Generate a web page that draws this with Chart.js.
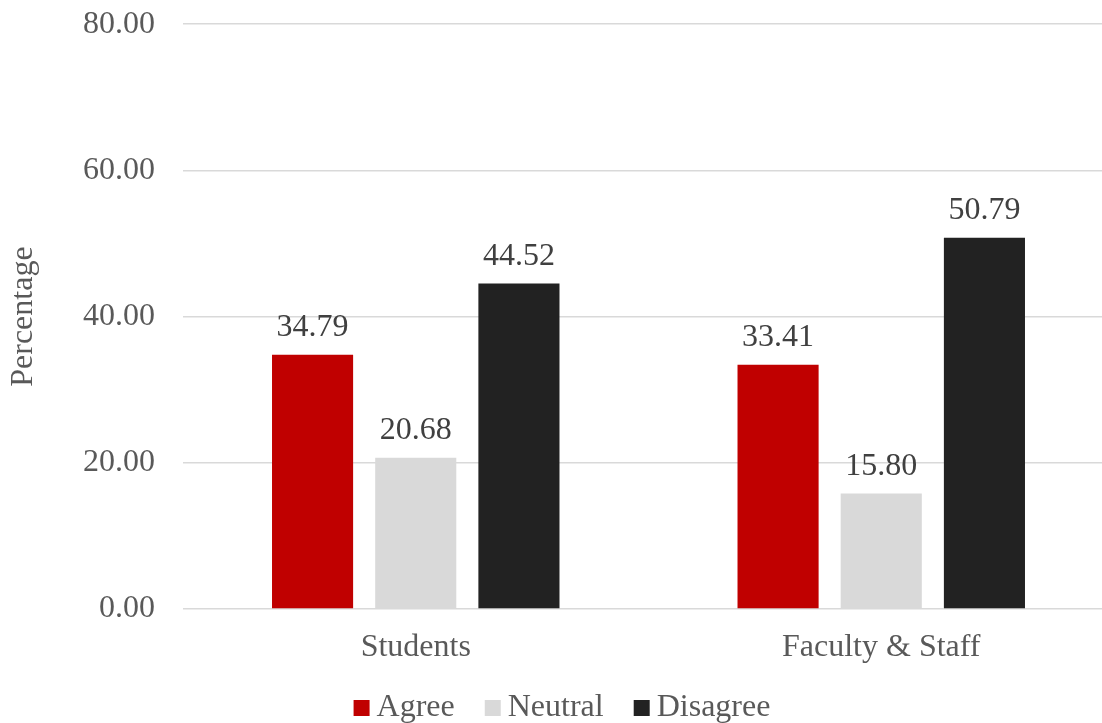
<!DOCTYPE html>
<html>
<head>
<meta charset="utf-8">
<script src="https://cdn.jsdelivr.net/npm/chart.js@4.4.0/dist/chart.umd.min.js"></script>
<style>
    html, body { margin: 0; padding: 0; background: #fff; overflow: hidden; }
    /* canvas is a bit bigger than the window, the plot is cut on the right and top like the original */
    #wrap { position: absolute; left: 0; top: -23px; width: 1114px; height: 746px; }
</style>
</head>
<body>
<div id="wrap"><canvas id="bar_chart"></canvas></div>
<script>
const groups = ['Students', 'Faculty & Staff'];
const agree = [34.79, 33.41];
const neutral = [20.68, 15.80];
const disagree = [44.52, 50.79];
const yTicks = [0, 20, 40, 60, 80];

const serif = '"Liberation Serif", "Times New Roman", serif';

// write the value over each bar
const valueLabels = {
    id: 'valueLabels',
    afterDatasetsDraw(chart) {
        const ctx = chart.ctx;
        ctx.save();
        ctx.font = '32px ' + serif;
        ctx.fillStyle = '#404040';
        ctx.textAlign = 'center';
        ctx.textBaseline = 'alphabetic';
        chart.data.datasets.forEach((ds, i) => {
            chart.getDatasetMeta(i).data.forEach((bar, j) => {
                ctx.fillText(ds.data[j].toFixed(2), bar.x, bar.y - 19);
            });
        });
        ctx.restore();
    }
};

// small legend at the bottom, box close to its text
const bottomLegend = {
    id: 'bottomLegend',
    afterDraw(chart) {
        const ctx = chart.ctx;
        const box = 16, gap = 7, spacing = 30;
        const baseline = chart.height - 7;
        ctx.save();
        ctx.font = '32px ' + serif;
        ctx.textBaseline = 'alphabetic';
        ctx.textAlign = 'left';
        const items = chart.data.datasets.map(ds => ({
            text: ds.label,
            color: ds.backgroundColor,
            w: box + gap + ctx.measureText(ds.label).width
        }));
        const total = items.reduce((s, it) => s + it.w, 0) + spacing * (items.length - 1);
        let x = chart.width / 2 + 5 - total / 2;
        for (const it of items) {
            ctx.fillStyle = it.color;
            ctx.fillRect(x, baseline - box, box, box);
            ctx.fillStyle = '#595959';
            ctx.fillText(it.text, x + box + gap, baseline);
            x += it.w + spacing;
        }
        ctx.restore();
    }
};

const ctx = document.querySelector('#bar_chart');
const chart = new Chart(ctx, {
    type: 'bar',
    data: {
        labels: groups,
        datasets: [
            { label: 'Agree', data: agree, backgroundColor: '#C00000' },
            { label: 'Neutral', data: neutral, backgroundColor: '#D9D9D9' },
            { label: 'Disagree', data: disagree, backgroundColor: '#222222' }
        ]
    },
    options: {
        responsive: true,
        maintainAspectRatio: false,
        animation: false,
        datasets: {
            bar: { categoryPercentage: 0.665, barPercentage: 0.786 }
        },
        layout: { padding: { top: 8, right: 0, bottom: 0, left: 0 } },
        plugins: {
            tooltip: { enabled: false },
            legend: { display: false }
        },
        scales: {
            x: {
                grid: { display: false },
                border: { display: false },
                ticks: { color: '#595959', padding: 11, font: { family: serif, size: 32 } },
                afterFit: (scale) => { scale.height = 114; }
            },
            y: {
                min: 0,
                max: 80,
                afterBuildTicks: (scale) => { scale.ticks = yTicks.map(v => ({ value: v })); },
                grid: { color: '#D9D9D9', lineWidth: 1.5, drawTicks: false },
                border: { display: false },
                ticks: {
                    color: '#595959',
                    padding: 28,
                    font: { family: serif, size: 32 },
                    callback: (v) => Number(v).toFixed(2)
                },
                title: {
                    display: true,
                    text: 'Percentage',
                    color: '#595959',
                    padding: { top: 4, bottom: 0 },
                    font: { family: serif, size: 32 }
                },
                afterFit: (scale) => { scale.width = 183; }
            }
        }
    },
    plugins: [valueLabels, bottomLegend]
});
</script>
</body>
</html>
